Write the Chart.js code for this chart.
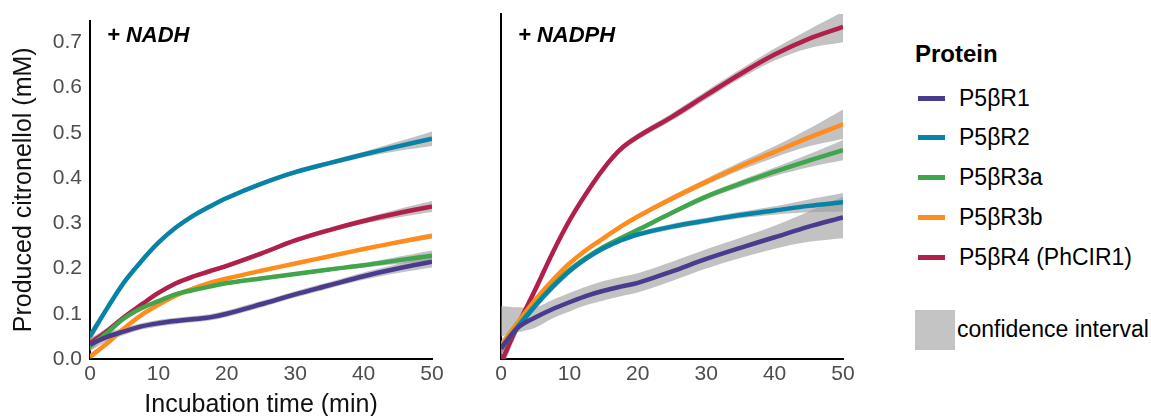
<!DOCTYPE html>
<html><head><meta charset="utf-8">
<script src="https://cdn.jsdelivr.net/npm/chart.js@4/dist/chart.umd.min.js"></script>
<style>
html,body{margin:0;padding:0;background:#fff;width:1151px;height:416px;overflow:hidden;font-family:"Liberation Sans",Arial,sans-serif;}
canvas{position:absolute;top:0;}
#c1{left:0px}
#c2{left:450px}
.panel{position:absolute;font-weight:bold;font-style:italic;font-size:22px;line-height:22px;color:#000;white-space:nowrap;}
.lg{position:absolute;white-space:nowrap;color:#000;}
.lgTitle{font-weight:bold;font-size:24px;line-height:24px;left:915px;top:42px;}
.lgItem{font-size:23px;line-height:23px;left:959px;}
.lgLine{position:absolute;left:918px;width:27px;height:5px;}
.ciBox{position:absolute;left:915px;top:310px;width:40px;height:40px;background:#c4c4c4;}
</style>
</head><body>
<canvas id="c1" width="450" height="416"></canvas>
<canvas id="c2" width="420" height="416"></canvas>
<div class="panel" style="left:107px;top:24px;">+ NADH</div>
<div class="panel" style="left:518px;top:24px;">+ NADPH</div>
<div id="legend"></div>
<script>
// ---- data ----
const time = [0, 2.5, 5, 7.5, 10, 12.5, 15, 17.5, 20, 25, 30, 35, 40, 45, 50];
const proteins = ['P5βR1', 'P5βR2', 'P5βR3a', 'P5βR3b', 'P5βR4 (PhCIR1)'];
const proteinColors = ['#4a3b8e', '#0883a8', '#3fa64b', '#ff8c1c', '#b11f4b'];
const xTicks = [0, 10, 20, 30, 40, 50];
const yTicks = [0, 0.1, 0.2, 0.3, 0.4, 0.5, 0.6, 0.7];

// + NADH
const nadhR1  = [0.032, 0.049, 0.061, 0.072, 0.079, 0.084, 0.088, 0.092, 0.100, 0.121, 0.143, 0.163, 0.183, 0.200, 0.215];
const nadhR2  = [0.050, 0.112, 0.170, 0.216, 0.257, 0.290, 0.316, 0.337, 0.356, 0.387, 0.413, 0.433, 0.452, 0.470, 0.487];
const nadhR3a = [0.028, 0.058, 0.090, 0.112, 0.128, 0.143, 0.152, 0.160, 0.168, 0.178, 0.188, 0.198, 0.207, 0.218, 0.228];
const nadhR3b = [0.005, 0.035, 0.068, 0.097, 0.120, 0.140, 0.155, 0.168, 0.178, 0.195, 0.211, 0.227, 0.243, 0.258, 0.272];
const nadhR4  = [0.035, 0.062, 0.093, 0.120, 0.146, 0.167, 0.182, 0.194, 0.206, 0.233, 0.262, 0.285, 0.305, 0.322, 0.337];
// confidence half-widths (NADH)
const nadhR1ci  = [0.015, 0.010, 0.008, 0.007, 0.007, 0.007, 0.007, 0.007, 0.007, 0.007, 0.007, 0.007, 0.008, 0.010, 0.013];
const nadhR2ci  = [0.012, 0.008, 0.006, 0.005, 0.005, 0.005, 0.005, 0.005, 0.005, 0.005, 0.005, 0.005, 0.006, 0.010, 0.016];
const nadhR3aci = [0.010, 0.007, 0.005, 0.004, 0.004, 0.004, 0.004, 0.004, 0.004, 0.004, 0.004, 0.004, 0.005, 0.008, 0.012];
const nadhR3bci = [0.006, 0.004, 0.003, 0.003, 0.003, 0.003, 0.003, 0.003, 0.003, 0.003, 0.003, 0.003, 0.003, 0.004, 0.006];
const nadhR4ci  = [0.010, 0.007, 0.005, 0.005, 0.005, 0.005, 0.005, 0.005, 0.005, 0.005, 0.005, 0.005, 0.006, 0.009, 0.012];

// + NADPH (P5βR1 curve runs under the other curves before ~5 min; its band is centred higher there)
const nadphR1  = [0.024, 0.068, 0.090, 0.108, 0.123, 0.137, 0.148, 0.157, 0.165, 0.190, 0.217, 0.241, 0.264, 0.287, 0.307];
const nadphR1bandMid = [0.082, 0.085, 0.090, 0.108, 0.123, 0.137, 0.148, 0.157, 0.165, 0.190, 0.217, 0.241, 0.264, 0.287, 0.307];
const nadphR2  = [0.022, 0.070, 0.115, 0.155, 0.190, 0.218, 0.240, 0.257, 0.270, 0.287, 0.300, 0.312, 0.322, 0.332, 0.340];
const nadphR3a = [0.022, 0.072, 0.117, 0.158, 0.193, 0.220, 0.243, 0.262, 0.280, 0.317, 0.352, 0.380, 0.406, 0.430, 0.453];
const nadphR3b = [0.028, 0.080, 0.128, 0.170, 0.207, 0.237, 0.262, 0.287, 0.309, 0.348, 0.384, 0.418, 0.449, 0.480, 0.509];
const nadphR4  = [-0.008, 0.074, 0.150, 0.229, 0.300, 0.360, 0.413, 0.455, 0.482, 0.525, 0.572, 0.618, 0.660, 0.694, 0.720];
// confidence half-widths (NADPH)
const nadphR1ci  = [0.033, 0.027, 0.022, 0.020, 0.020, 0.020, 0.021, 0.021, 0.021, 0.021, 0.021, 0.022, 0.025, 0.033, 0.045];
const nadphR2ci  = [0.012, 0.008, 0.006, 0.005, 0.005, 0.005, 0.005, 0.005, 0.005, 0.006, 0.006, 0.007, 0.009, 0.014, 0.020];
const nadphR3aci = [0.012, 0.008, 0.006, 0.005, 0.005, 0.005, 0.005, 0.005, 0.005, 0.005, 0.006, 0.007, 0.009, 0.014, 0.022];
const nadphR3bci = [0.012, 0.008, 0.006, 0.005, 0.005, 0.005, 0.005, 0.005, 0.005, 0.006, 0.007, 0.009, 0.012, 0.019, 0.032];
const nadphR4ci  = [0.020, 0.013, 0.010, 0.008, 0.007, 0.007, 0.007, 0.007, 0.007, 0.008, 0.009, 0.010, 0.013, 0.020, 0.033];

// ---- build ----
const FONT = '"Liberation Sans", Arial, sans-serif';
Chart.defaults.font.family = FONT;
const BAND = 'rgba(153,153,153,0.6)';

function pts(vals) { return time.map((t, i) => ({x: t, y: vals[i]})); }

function buildDatasets(series, cis, mids) {
  const ds = [];
  series.forEach((vals, k) => {
    ds.push({label: proteins[k], data: pts(vals), borderColor: proteinColors[k], borderWidth: 4.5,
      pointRadius: 0, fill: false, tension: 0.35, order: 0, borderCapStyle: 'butt'});
  });
  series.forEach((vals, k) => {
    const mid = (mids && mids[k]) ? mids[k] : vals;
    const up = mid.map((v, i) => v + cis[k][i]);
    const lo = mid.map((v, i) => v - cis[k][i]);
    ds.push({label: 'ciU' + k, data: pts(up), borderWidth: 0, borderColor: 'rgba(0,0,0,0)', pointRadius: 0,
      fill: false, tension: 0.35, order: 1});
    ds.push({label: 'ciL' + k, data: pts(lo), borderWidth: 0, borderColor: 'rgba(0,0,0,0)', pointRadius: 0,
      fill: '-1', backgroundColor: BAND, tension: 0.35, order: 1});
  });
  return ds;
}

function makeChart(id, series, cis, mids, withY, yWidth, rightPad) {
  return new Chart(document.getElementById(id), {
    type: 'line',
    data: {datasets: buildDatasets(series, cis, mids)},
    options: {
      responsive: false, animation: false, devicePixelRatio: 1,
      layout: {padding: {left: 0, right: rightPad, top: 14, bottom: 0}},
      plugins: {legend: {display: false}, tooltip: {enabled: false}},
      scales: {
        x: {
          type: 'linear', min: 0, max: 50,
          afterBuildTicks: s => { s.ticks = xTicks.map(v => ({value: v})); },
          ticks: {font: {size: 21}, color: '#4d4d4d', padding: 3, maxRotation: 0, autoSkip: false},
          grid: {display: false, drawTicks: false},
          border: {display: true, color: '#000', width: 2},
          title: {display: withY, text: 'Incubation time (min)', font: {size: 25}, color: '#111', padding: {top: 0, bottom: -4}},
          afterFit: s => { s.height = 57; }
        },
        y: {
          type: 'linear', min: 0, max: 0.748,
          afterBuildTicks: s => { s.ticks = yTicks.map(v => ({value: v})); },
          ticks: {display: withY, font: {size: 21}, color: '#4d4d4d', padding: 8, callback: v => Number(v).toFixed(1)},
          grid: {display: false, drawTicks: false},
          border: {display: true, color: '#000', width: 2},
          title: {display: withY, text: 'Produced citronellol (mM)', font: {size: 25}, color: '#111', padding: {top: 9, bottom: 0}},
          afterFit: s => { s.width = yWidth; }
        }
      }
    }
  });
}

makeChart('c1', [nadhR1, nadhR2, nadhR3a, nadhR3b, nadhR4], [nadhR1ci, nadhR2ci, nadhR3aci, nadhR3bci, nadhR4ci], null, true, 90, 18);
makeChart('c2', [nadphR1, nadphR2, nadphR3a, nadphR3b, nadphR4], [nadphR1ci, nadphR2ci, nadphR3aci, nadphR3bci, nadphR4ci],
  [nadphR1bandMid, null, null, null, null], false, 51, 27);

// ---- legend (HTML text) ----
const lg = document.getElementById('legend');
let html = '<div class="lg lgTitle">Protein</div>';
proteins.forEach((p, k) => {
  const cy = 98 + k * 39.8;
  html += '<div class="lgLine" style="top:' + (cy - 2.5) + 'px;background:' + proteinColors[k] + '"></div>';
  html += '<div class="lg lgItem" style="top:' + (cy - 11.5) + 'px">' + p + '</div>';
});
html += '<div class="ciBox"></div><div class="lg lgItem" style="left:957px;top:318px">confidence interval</div>';
lg.innerHTML = html;
</script>
</body></html>
